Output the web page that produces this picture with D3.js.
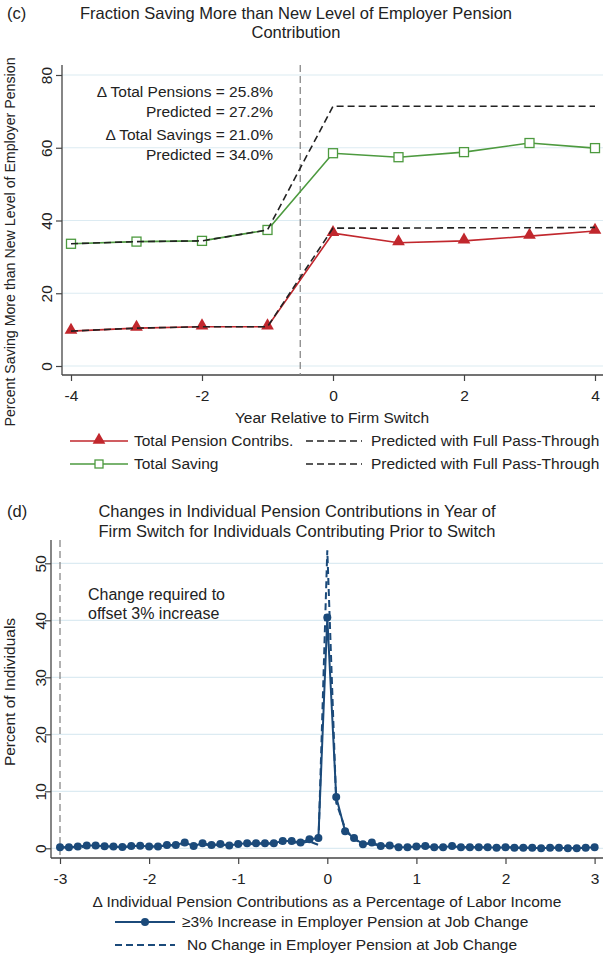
<!DOCTYPE html>
<html>
<head>
<meta charset="utf-8">
<script src="https://cdn.jsdelivr.net/npm/d3@7"></script>
<style>
  html, body { margin: 0; padding: 0; background: #fff; }
  svg text { font-family: "Liberation Sans", Arial, Helvetica, sans-serif; fill: #222; }
</style>
</head>
<body>
<svg id="chart" width="603" height="957"></svg>
<script>
// ---------- Panel (c): fraction saving more than new employer pension level ----------
const years = [-4, -3, -2, -1, 0, 1, 2, 3, 4];
const pensionContribs = [9.6, 10.4, 10.8, 10.8, 36.5, 33.9, 34.4, 35.7, 37.1];
const totalSaving = [33.6, 34.2, 34.4, 37.4, 58.5, 57.4, 58.8, 61.3, 59.9];
const pensionPredicted = [9.6, 10.4, 10.8, 10.8, 37.9, 37.9, 38.0, 38.0, 38.1];
const savingPredicted = [33.6, 34.2, 34.4, 37.4, 71.4, 71.4, 71.4, 71.4, 71.4];
const yearTicks = [-4, -2, 0, 2, 4];
const pctTicksC = [0, 20, 40, 60, 80];
const switchLine = -0.5;
const annotations = [
  "\u0394 Total Pensions = 25.8%",
  "Predicted = 27.2%",
  "\u0394 Total Savings = 21.0%",
  "Predicted = 34.0%"
];

// ---------- Panel (d): distribution of contribution changes ----------
const changeBins = d3.range(-30, 31).map(i => i / 10);
const increaseGroup = [
  0.2, 0.2, 0.3, 0.5, 0.5, 0.35, 0.3, 0.25, 0.4, 0.45,
  0.3, 0.3, 0.6, 0.6, 1.0, 0.4, 0.9, 0.6, 0.75, 0.5,
  0.75, 0.9, 0.9, 0.9, 0.9, 1.3, 1.3, 1.0, 1.6, 1.8,
  40.5, 9.0, 3.0, 1.8, 0.7, 1.0, 0.4, 0.5, 0.2, 0.2,
  0.3, 0.4, 0.2, 0.2, 0.4, 0.2, 0.2, 0.2, 0.2, 0.1,
  0.2, 0.1, 0.1, 0.1, 0.0, 0.1, 0.1, 0.0, 0.0, 0.1, 0.2
];
const noChangeGroup = [
  0.1, 0.2, 0.2, 0.3, 0.4, 0.3, 0.3, 0.2, 0.3, 0.4,
  0.3, 0.3, 0.5, 0.5, 0.8, 0.4, 0.7, 0.5, 0.6, 0.5,
  0.6, 0.7, 0.8, 0.8, 0.8, 1.0, 1.1, 0.9, 1.2, 0.6,
  52.3, 8.0, 3.5, 1.5, 0.9, 0.7, 0.5, 0.4, 0.3, 0.2,
  0.3, 0.3, 0.2, 0.2, 0.3, 0.2, 0.2, 0.2, 0.1, 0.1,
  0.2, 0.1, 0.1, 0.1, 0.1, 0.1, 0.1, 0.0, 0.1, 0.1, 0.2
];
const changeTicks = [-3, -2, -1, 0, 1, 2, 3];
const pctTicksD = [0, 10, 20, 30, 40, 50];
const offsetLine = -3;

const svg = d3.select("#chart");
const FS = 15.5;
const TITLE_FS = 16.5;
const axisColor = "#444";
const gridColor = "#dcebf2";
const red = "#c1272d";
const green = "#4d9a3f";
const navy = "#1b4a7a";

function drawAxes(g, x, y, frame, xt, yt, ylabX, xPad) {
  // grid
  g.append("g").selectAll("line").data(yt).join("line")
    .attr("x1", frame.left).attr("x2", frame.right)
    .attr("y1", d => y(d)).attr("y2", d => y(d))
    .attr("stroke", gridColor).attr("stroke-width", 1.2);
  // y axis
  const ya = g.append("g").attr("transform", `translate(${frame.left},0)`)
    .call(d3.axisLeft(y).tickValues(yt).tickSize(6).tickPadding(4).tickFormat(d3.format("d")));
  ya.select(".domain").remove();
  ya.append("line").attr("x1", 0).attr("x2", 0).attr("y1", frame.top).attr("y2", frame.bottom)
    .attr("stroke", axisColor).attr("stroke-width", 1.3);
  ya.selectAll(".tick line").attr("stroke", axisColor).attr("stroke-width", 1.2);
  ya.selectAll(".tick text")
    .attr("font-size", FS).attr("fill", "#222")
    .attr("text-anchor", "middle")
    .attr("x", 0).attr("dy", null)
    .attr("transform", `translate(${ylabX - frame.left},0) rotate(-90)`)
    .attr("y", 0).attr("dominant-baseline", "central");
  // x axis
  const xa = g.append("g").attr("transform", `translate(0,${frame.bottom})`)
    .call(d3.axisBottom(x).tickValues(xt).tickSize(6).tickPadding(xPad).tickFormat(d3.format("d")));
  xa.select(".domain").remove();
  xa.append("line").attr("x1", frame.left).attr("x2", frame.right).attr("y1", 0).attr("y2", 0)
    .attr("stroke", axisColor).attr("stroke-width", 1.3);
  xa.selectAll(".tick line").attr("stroke", axisColor).attr("stroke-width", 1.2);
  xa.selectAll(".tick text").attr("font-size", FS).attr("fill", "#222")
    .text(d => d < 0 ? "-" + Math.abs(d) : d);
}

// ================= Panel (c) =================
{
  const frame = { left: 62, right: 603, top: 65, bottom: 375 };
  const x = d3.scaleLinear().domain([-4, 4]).range([71, 595]);
  const y = d3.scaleLinear().domain([0, 80]).range([366, 75]);
  const g = svg.append("g");

  g.append("text").attr("x", 7).attr("y", 19).attr("font-size", TITLE_FS).text("(c)");
  g.append("text").attr("x", 296).attr("y", 19).attr("font-size", TITLE_FS).attr("text-anchor", "middle")
    .text("Fraction Saving More than New Level of Employer Pension");
  g.append("text").attr("x", 296).attr("y", 38).attr("font-size", TITLE_FS).attr("text-anchor", "middle")
    .text("Contribution");

  drawAxes(g, x, y, frame, yearTicks, pctTicksC, 46, 9);

  g.append("line").attr("x1", x(switchLine)).attr("x2", x(switchLine))
    .attr("y1", frame.top).attr("y2", frame.bottom)
    .attr("stroke", "#888").attr("stroke-width", 1.3).attr("stroke-dasharray", "7,4");

  g.append("text")
    .attr("transform", "translate(15,242) rotate(-90)")
    .attr("text-anchor", "middle").attr("font-size", 14.2)
    .text("Percent Saving More than New Level of Employer Pension");
  g.append("text").attr("x", 332).attr("y", 423).attr("text-anchor", "middle").attr("font-size", FS)
    .text("Year Relative to Firm Switch");

  const ann = g.append("g");
  annotations.forEach((t, i) => {
    ann.append("text").attr("x", 273).attr("y", [97, 117, 140, 160][i])
      .attr("text-anchor", "end").attr("font-size", FS).text(t);
  });

  const line = d3.line().x((d, i) => x(years[i])).y(d => y(d));
  g.append("path").datum(pensionContribs).attr("d", line)
    .attr("fill", "none").attr("stroke", red).attr("stroke-width", 1.6);
  g.append("path").datum(totalSaving).attr("d", line)
    .attr("fill", "none").attr("stroke", green).attr("stroke-width", 1.6);

  const tri = d3.symbol().type(d3.symbolTriangle).size(70);
  g.append("g").selectAll("path").data(pensionContribs).join("path")
    .attr("d", tri).attr("transform", (d, i) => `translate(${x(years[i])},${y(d) - 1})`)
    .attr("fill", red);
  g.append("g").selectAll("rect").data(totalSaving).join("rect")
    .attr("x", (d, i) => x(years[i]) - 4.5).attr("y", d => y(d) - 4.5)
    .attr("width", 9).attr("height", 9)
    .attr("fill", "#fff").attr("stroke", green).attr("stroke-width", 1.3);

  [pensionPredicted, savingPredicted].forEach(s => {
    g.append("path").datum(s).attr("d", line)
      .attr("fill", "none").attr("stroke", "#222").attr("stroke-width", 1.6)
      .attr("stroke-dasharray", "7,4");
  });

  // legend
  const lg = g.append("g");
  const rows = [441, 464];
  lg.append("line").attr("x1", 70).attr("x2", 128).attr("y1", rows[0]).attr("y2", rows[0])
    .attr("stroke", red).attr("stroke-width", 1.6);
  lg.append("path").attr("d", tri).attr("transform", `translate(99,${rows[0] - 1})`).attr("fill", red);
  lg.append("text").attr("x", 134).attr("y", rows[0]).attr("dy", "0.35em").attr("font-size", FS)
    .text("Total Pension Contribs.");
  lg.append("line").attr("x1", 70).attr("x2", 128).attr("y1", rows[1]).attr("y2", rows[1])
    .attr("stroke", green).attr("stroke-width", 1.6);
  lg.append("rect").attr("x", 95).attr("y", rows[1] - 4).attr("width", 8).attr("height", 8)
    .attr("fill", "#fff").attr("stroke", green).attr("stroke-width", 1.3);
  lg.append("text").attr("x", 134).attr("y", rows[1]).attr("dy", "0.35em").attr("font-size", FS)
    .text("Total Saving");
  rows.forEach(r => {
    lg.append("line").attr("x1", 306).attr("x2", 362).attr("y1", r).attr("y2", r)
      .attr("stroke", "#222").attr("stroke-width", 1.6).attr("stroke-dasharray", "7,4");
    lg.append("text").attr("x", 371).attr("y", r).attr("dy", "0.35em").attr("font-size", FS)
      .text("Predicted with Full Pass-Through");
  });
}

// ================= Panel (d) =================
{
  const frame = { left: 51, right: 603, top: 540, bottom: 858 };
  const x = d3.scaleLinear().domain([-3, 3]).range([60, 594.6]);
  const y = d3.scaleLinear().domain([0, 50]).range([848.3, 563.3]);
  const g = svg.append("g");

  g.append("text").attr("x", 7).attr("y", 517).attr("font-size", TITLE_FS).text("(d)");
  g.append("text").attr("x", 297).attr("y", 517).attr("font-size", TITLE_FS).attr("text-anchor", "middle")
    .text("Changes in Individual Pension Contributions in Year of");
  g.append("text").attr("x", 297).attr("y", 537).attr("font-size", TITLE_FS).attr("text-anchor", "middle")
    .text("Firm Switch for Individuals Contributing Prior to Switch");

  drawAxes(g, x, y, frame, changeTicks, pctTicksD, 40, 9);

  g.append("line").attr("x1", x(offsetLine)).attr("x2", x(offsetLine))
    .attr("y1", frame.top).attr("y2", frame.bottom)
    .attr("stroke", "#888").attr("stroke-width", 1.3).attr("stroke-dasharray", "7,4");

  g.append("text").attr("x", 88).attr("y", 600).attr("font-size", 16).attr("fill", "#444")
    .text("Change required to");
  g.append("text").attr("x", 88).attr("y", 619).attr("font-size", 16).attr("fill", "#444")
    .text("offset 3% increase");

  g.append("text")
    .attr("transform", "translate(15,692) rotate(-90)")
    .attr("text-anchor", "middle").attr("font-size", FS)
    .text("Percent of Individuals");
  g.append("text").attr("x", 327).attr("y", 907).attr("text-anchor", "middle").attr("font-size", FS)
    .text("\u0394 Individual Pension Contributions as a Percentage of Labor Income");

  const line = d3.line().x((d, i) => x(changeBins[i])).y(d => y(d));
  g.append("path").datum(increaseGroup).attr("d", line)
    .attr("fill", "none").attr("stroke", navy).attr("stroke-width", 2);
  g.append("g").selectAll("circle").data(increaseGroup).join("circle")
    .attr("cx", (d, i) => x(changeBins[i])).attr("cy", d => y(d)).attr("r", 4)
    .attr("fill", navy);
  g.append("path").datum(noChangeGroup).attr("d", line)
    .attr("fill", "none").attr("stroke", navy).attr("stroke-width", 2)
    .attr("stroke-dasharray", "7,4");

  const lg = g.append("g");
  const rows = [922, 945];
  lg.append("line").attr("x1", 115).attr("x2", 175).attr("y1", rows[0]).attr("y2", rows[0])
    .attr("stroke", navy).attr("stroke-width", 2);
  lg.append("circle").attr("cx", 145).attr("cy", rows[0]).attr("r", 4).attr("fill", navy);
  lg.append("text").attr("x", 182).attr("y", rows[0]).attr("dy", "0.35em").attr("font-size", FS)
    .text("\u22653% Increase in Employer Pension at Job Change");
  lg.append("line").attr("x1", 115).attr("x2", 175).attr("y1", rows[1]).attr("y2", rows[1])
    .attr("stroke", navy).attr("stroke-width", 2).attr("stroke-dasharray", "7,4");
  lg.append("text").attr("x", 187).attr("y", rows[1]).attr("dy", "0.35em").attr("font-size", FS)
    .text("No Change in Employer Pension at Job Change");
}
</script>
</body>
</html>
